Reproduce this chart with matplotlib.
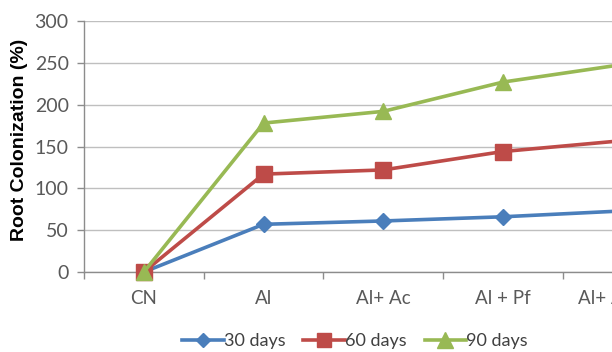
import matplotlib
matplotlib.use("Agg")
import matplotlib.pyplot as plt
from matplotlib.lines import Line2D

categories = ["CN", "Al", "Al+ Ac", "Al + Pf", "Al+ Ac+ Pf"]
days_30 = [0, 57, 61, 66, 73]
days_60 = [0, 117, 122, 144, 157]
days_90 = [0, 178, 192, 227, 248]
series_labels = ["30 days", "60 days", "90 days"]
y_ticks = [0, 50, 100, 150, 200, 250, 300]

colors = ["#4A7EBB", "#BE4B48", "#98B954"]
markers = ["D", "s", "^"]
msizes = [8.5, 11.5, 12]

W, H = 612, 352
fig = plt.figure(figsize=(W / 100, H / 100), dpi=100)
left_px, top_px, bottom_px = 84, 21, 272
step_px = 119.7
width_px = step_px * len(categories)
ax = fig.add_axes([left_px / W, 1 - bottom_px / H,
                   width_px / W, (bottom_px - top_px) / H])

x = list(range(len(categories)))
for vals, c, m, ms, lab in zip([days_30, days_60, days_90], colors, markers, msizes, series_labels):
    ax.plot(x, vals, color=c, lw=2.6, marker=m, markersize=ms,
            markeredgecolor=c, markerfacecolor=c, label=lab, clip_on=False, zorder=3)

ax.set_xlim(-0.5, len(categories) - 0.5)
ax.set_ylim(0, 300)
ax.set_yticks(y_ticks)
ax.set_xticks(x)
ax.set_xticklabels(categories)
ax.set_xticks([i + 0.5 for i in range(-1, len(categories))], minor=True)

ax.grid(axis="y", color="#BFBFBF", lw=1.0)
ax.set_axisbelow(True)
for s in ["top", "right"]:
    ax.spines[s].set_visible(False)
for s in ["left", "bottom"]:
    ax.spines[s].set_color("#8C8C8C")
    ax.spines[s].set_linewidth(1.0)

tick_font = "Lato"
ax.tick_params(axis="y", which="major", direction="out", length=5, width=1,
               color="#8C8C8C", labelcolor="#595959", labelsize=14, pad=6)
for t in ax.get_yticklabels():
    t.set_fontfamily(tick_font)
ax.tick_params(axis="x", which="major", length=0, labelcolor="#595959",
               labelsize=13.5, pad=13)
ax.tick_params(axis="x", which="minor", direction="out", length=5, width=1,
               color="#8C8C8C")
for t in ax.get_xticklabels():
    t.set_fontfamily(tick_font)

fig.text(20 / W, 1 - 140 / H, "Root Colonization (%)", rotation=90,
         ha="center", va="center", fontsize=14, fontweight="bold",
         family="Liberation Sans", color="black")

handles = [Line2D([], [], color=c, lw=2.6, marker=m, markersize=ms - 1,
                  markerfacecolor=c, markeredgecolor=c)
           for c, m, ms in zip(colors, markers, msizes)]
leg = fig.legend(handles, series_labels, loc="center",
                 bbox_to_anchor=(355 / W, 1 - 341 / H), ncol=3, frameon=False,
                 prop={"family": tick_font, "size": 13}, handlelength=2.3,
                 handletextpad=0.0, columnspacing=1.0, borderpad=0)
for t in leg.get_texts():
    t.set_color("#404040")

fig.savefig("out.png", dpi=100)
